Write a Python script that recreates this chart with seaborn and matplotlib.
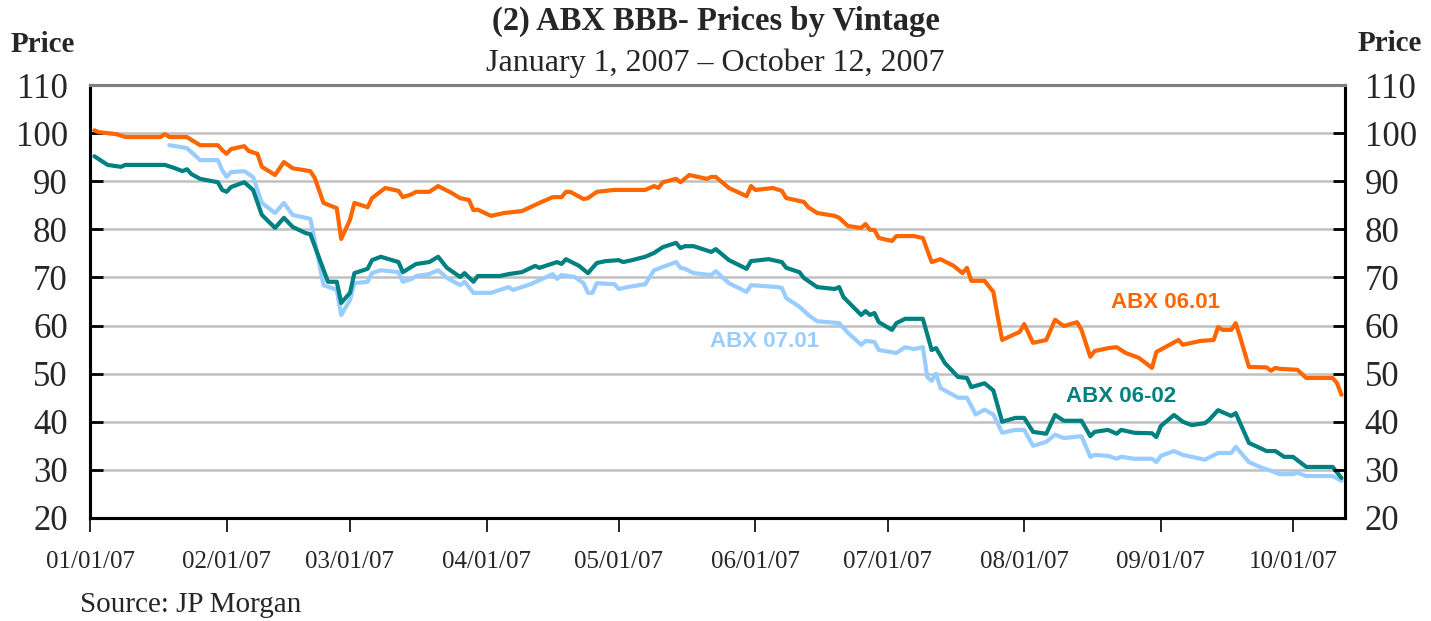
import pandas as pd
import matplotlib.pyplot as plt
import matplotlib.dates as mdates
import seaborn as sns

# Prices; day = days since 1 Jan 2007
abx0601_day = [1, 2, 6, 8, 16, 17, 18, 22, 23, 25, 29, 30, 31, 32, 35, 36, 38, 39, 42, 44,
               46, 50, 51, 53, 56, 57, 59, 60, 63, 64, 67, 70, 71, 73, 74, 77, 79, 82, 84, 86,
               87, 88, 91, 94, 98, 102, 105, 107, 108, 109, 112, 113, 115, 119, 126, 128, 129, 130, 133, 134,
               136, 140, 141, 142, 145, 149, 150, 151, 155, 157, 158, 162, 163, 165, 169, 170, 172, 175, 176, 177,
               178, 179, 182, 183, 187, 189, 191, 193, 196, 198, 199, 200, 203, 205, 206, 207, 211, 212, 214, 217,
               219, 221, 224, 225, 227, 228, 231, 233, 235, 238, 241, 242, 247, 248, 252, 255, 256, 257, 259, 260,
               261, 263, 267, 268, 269, 270, 274, 276, 282, 283, 284]
abx0601 = [100.6, 100.2, 99.8, 99.2, 99.2, 99.8, 99.2, 99.2, 98.6, 97.5, 97.5, 96.5, 95.7, 96.7, 97.3, 96.3, 95.7, 93.0, 91.3, 94.0,
           92.7, 92.1, 90.7, 85.5, 84.4, 78.0, 82.0, 85.5, 84.6, 86.5, 88.6, 88.0, 86.7, 87.3, 87.8, 87.8, 89.0, 87.6, 86.5, 86.1,
           84.0, 84.1, 82.8, 83.4, 83.8, 85.5, 86.7, 86.7, 87.8, 87.8, 86.3, 86.5, 87.8, 88.2, 88.2, 89.0, 88.6, 89.8, 90.5, 89.8,
           91.3, 90.5, 90.9, 90.9, 88.6, 86.9, 89.0, 88.2, 88.6, 88.0, 86.5, 85.7, 84.6, 83.4, 82.8, 82.4, 80.7, 80.3, 81.1, 79.9,
           79.9, 78.2, 77.6, 78.6, 78.6, 78.2, 73.2, 73.8, 72.4, 70.9, 72.0, 69.3, 69.3, 67.0, 61.8, 57.0, 58.7, 60.3, 56.4, 57.0,
           61.2, 59.9, 60.7, 59.1, 53.5, 54.7, 55.3, 55.5, 54.3, 53.3, 51.2, 54.5, 57.0, 56.0, 56.8, 57.0, 59.7, 59.1, 59.1, 60.5,
           57.6, 51.4, 51.3, 50.6, 51.2, 51.0, 50.8, 49.1, 49.1, 48.0, 45.6]

abx0602_day = [1, 2, 4, 7, 8, 17, 19, 21, 22, 23, 25, 29, 30, 31, 32, 35, 37, 39, 42, 44,
               46, 49, 50, 54, 56, 57, 59, 60, 63, 64, 66, 70, 71, 74, 77, 79, 81, 84, 85, 87,
               88, 93, 95, 98, 101, 102, 106, 107, 108, 111, 113, 115, 117, 120, 121, 123, 126, 128, 130, 133,
               134, 135, 137, 141, 142, 145, 149, 150, 154, 157, 158, 161, 162, 165, 169, 170, 171, 175, 176, 177,
               178, 179, 182, 183, 185, 189, 191, 192, 194, 197, 199, 200, 203, 205, 207, 210, 212, 214, 217, 219,
               221, 225, 227, 228, 231, 233, 234, 237, 241, 242, 243, 246, 248, 250, 253, 254, 256, 259, 260, 263,
               267, 269, 271, 273, 276, 282, 284]
abx0602 = [95.2, 94.6, 93.4, 93.0, 93.4, 93.4, 92.8, 92.1, 92.5, 91.5, 90.5, 89.8, 88.2, 87.8, 88.8, 89.8, 88.2, 83.0, 80.3, 82.4,
           80.5, 79.2, 79.0, 69.1, 69.1, 64.7, 66.8, 70.9, 71.8, 73.6, 74.3, 73.2, 71.1, 72.8, 73.2, 74.3, 72.0, 70.1, 70.9, 69.1,
           70.3, 70.3, 70.7, 71.1, 72.4, 72.0, 73.2, 72.8, 73.8, 72.4, 70.9, 73.0, 73.4, 73.6, 73.2, 73.6, 74.3, 75.1, 76.3, 77.2,
           76.1, 76.5, 76.5, 75.3, 75.9, 73.6, 71.8, 73.4, 73.8, 73.2, 72.0, 71.1, 69.9, 68.0, 67.6, 68.0, 65.9, 62.2, 63.0, 62.2,
           62.6, 60.7, 59.1, 60.5, 61.4, 61.4, 54.9, 55.3, 52.2, 49.3, 49.1, 47.2, 48.0, 46.5, 40.0, 40.8, 40.8, 37.9, 37.5, 41.4,
           40.2, 40.2, 37.0, 37.9, 38.3, 37.5, 38.3, 37.7, 37.6, 36.8, 39.1, 41.4, 40.0, 39.3, 39.7, 40.4, 42.4, 41.2, 41.8, 35.6,
           33.9, 33.9, 32.7, 32.7, 30.6, 30.6, 28.3]

abx0701_day = [18, 22, 25, 29, 30, 31, 32, 35, 37, 39, 42, 44, 46, 50, 53, 56, 57, 59, 60, 63,
               64, 66, 70, 71, 73, 74, 77, 79, 81, 84, 85, 87, 91, 95, 96, 98, 100, 105, 106, 107,
               110, 112, 113, 114, 115, 119, 120, 122, 126, 128, 130, 133, 134, 135, 137, 141, 142, 145, 149, 150,
               156, 157, 158, 161, 163, 165, 170, 172, 175, 176, 178, 179, 183, 185, 187, 189, 190, 191, 192, 193,
               197, 199, 201, 203, 205, 207, 210, 212, 214, 217, 219, 221, 225, 227, 228, 231, 233, 234, 237, 241,
               242, 243, 246, 248, 253, 256, 259, 260, 263, 266, 268, 270, 273, 274, 276, 282, 284]
abx0701 = [97.5, 96.9, 94.4, 94.4, 92.3, 90.9, 91.9, 92.1, 90.9, 85.5, 83.4, 85.5, 83.0, 82.2, 68.4, 67.4, 62.2, 65.3, 68.8, 69.1,
           70.9, 71.5, 71.1, 69.1, 69.7, 70.3, 70.7, 71.5, 69.9, 68.4, 69.1, 66.8, 66.8, 68.0, 67.4, 68.0, 68.6, 70.7, 69.7, 70.5,
           70.1, 68.8, 66.8, 66.8, 68.8, 68.6, 67.6, 68.0, 68.6, 71.5, 72.2, 73.2, 72.0, 71.8, 70.9, 70.5, 71.3, 68.8, 67.0, 68.4,
           68.0, 67.8, 65.7, 63.9, 62.2, 60.9, 60.5, 58.5, 56.0, 56.8, 56.6, 54.9, 54.3, 55.5, 55.1, 55.5, 49.3, 48.5, 50.0, 47.0,
           45.0, 45.0, 41.5, 42.5, 41.5, 37.7, 38.3, 38.3, 35.0, 35.8, 37.3, 36.6, 37.0, 32.7, 33.1, 32.9, 32.3, 32.7, 32.3, 32.3,
           31.6, 32.9, 33.9, 33.1, 32.1, 33.5, 33.5, 34.8, 31.6, 30.4, 29.8, 29.1, 29.1, 29.4, 28.7, 28.7, 27.7]

month_ticks = ['2007-01-01', '2007-02-01', '2007-03-01', '2007-04-01', '2007-05-01',
               '2007-06-01', '2007-07-01', '2007-08-01', '2007-09-01', '2007-10-01']

start = pd.Timestamp('2007-01-01')


def to_frame(days, prices):
    return pd.DataFrame({'date': start + pd.to_timedelta(days, unit='D'), 'price': prices})


sns.set_style('white')
plt.rcParams['font.family'] = ['Liberation Serif', 'DejaVu Serif']

fig = plt.figure(figsize=(14.31, 6.21), dpi=100)
ax = fig.add_axes([0.0629, 0.166, 0.8771, 0.697])

for days, prices, color in [(abx0701_day, abx0701, '#99CCFF'),
                            (abx0602_day, abx0602, '#008080'),
                            (abx0601_day, abx0601, '#FF6600')]:
    sns.lineplot(data=to_frame(days, prices), x='date', y='price', color=color,
                 linewidth=3.0, ax=ax)

ax.set_xlim(start, pd.Timestamp('2007-10-12 20:00'))
ax.set_ylim(20, 110)
ax.set_yticks(range(20, 111, 10))
ax.grid(axis='y', color='#c0c0c0', linewidth=1.8)
ax.set_axisbelow(True)
ax.set_xlabel('')
ax.set_ylabel('')

ax.set_xticks(pd.to_datetime(month_ticks))
ax.xaxis.set_major_formatter(mdates.DateFormatter('%m/%d/%y'))
ax.tick_params(axis='x', direction='out', length=10, width=1.2, color='black',
               labelsize=18, pad=14, bottom=True)
ax.tick_params(axis='y', direction='in', length=9, width=2, color='black',
               labelsize=25, pad=16, left=True)

ax2 = ax.twinx()
ax2.set_ylim(20, 110)
ax2.set_yticks(range(20, 111, 10))
ax2.tick_params(axis='y', direction='in', length=9, width=2, color='black',
                labelsize=25, pad=14, right=True)
ax2.grid(False)

for a in (ax, ax2):
    for side in ('left', 'right', 'bottom'):
        a.spines[side].set_color('black')
        a.spines[side].set_linewidth(2.2)
    a.spines['top'].set_color('#808080')
    a.spines['top'].set_linewidth(2.2)

ax.text(pd.Timestamp('2007-09-02'), 64.8, 'ABX 06.01', color='#FF6600', fontsize=16,
        fontweight='bold', family='Liberation Sans', ha='center', va='center')
ax.text(pd.Timestamp('2007-06-03'), 56.6, 'ABX 07.01', color='#99CCFF', fontsize=16,
        fontweight='bold', family='Liberation Sans', ha='center', va='center')
ax.text(pd.Timestamp('2007-08-23'), 45.3, 'ABX 06-02', color='#008080', fontsize=16,
        fontweight='bold', family='Liberation Sans', ha='center', va='center')

fig.text(0.5, 0.965, '(2) ABX BBB- Prices by Vintage', fontsize=23.5, fontweight='bold',
         ha='center', va='center')
fig.text(0.5, 0.898, 'January 1, 2007 \u2013 October 12, 2007', fontsize=23,
         ha='center', va='center')
fig.text(0.030, 0.928, 'Price', fontsize=21, fontweight='bold', ha='center', va='center')
fig.text(0.971, 0.930, 'Price', fontsize=21, fontweight='bold', ha='center', va='center')
fig.text(0.056, 0.025, 'Source: JP Morgan', fontsize=21, ha='left', va='center')

fig.savefig('out.png', dpi=100)
